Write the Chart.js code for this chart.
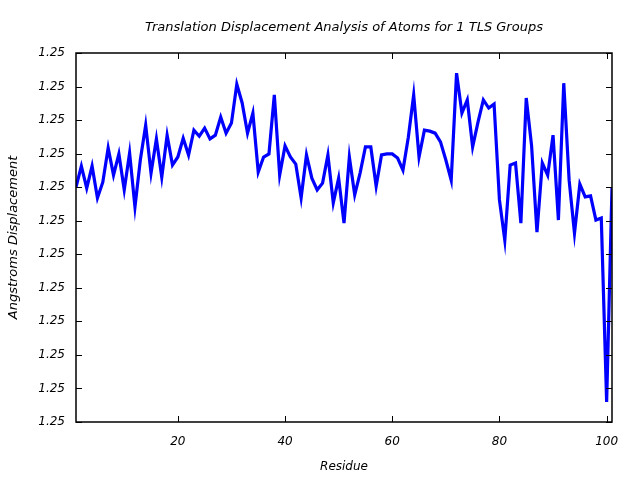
<!DOCTYPE html>
<html>
<head>
<meta charset="utf-8">
<script src="https://cdn.jsdelivr.net/npm/chart.js@4/dist/chart.umd.min.js"></script>
<style>
  html, body { margin: 0; padding: 0; background: #fff; }
  #wrap { width: 640px; height: 480px; }
</style>
</head>
<body>
<div id="wrap"><canvas id="chart_tls"></canvas></div>
<script>
// residue numbers 1..101
const residues = [];
for (let r = 1; r <= 101; r++) residues.push(r);

// displacement (Angstroms)
const displacement = [
    1.25200, 1.25263, 1.25197, 1.25263, 1.25168, 1.25215, 1.25317, 1.25236, 1.25299, 1.25192,
    1.25302, 1.25141, 1.25281, 1.25385, 1.25242, 1.25344, 1.25230, 1.25355, 1.25266, 1.25290,
    1.25346, 1.25296, 1.25370, 1.25352, 1.25376, 1.25344, 1.25355, 1.25409, 1.25361, 1.25391,
    1.25507, 1.25451, 1.25361, 1.25421, 1.25245, 1.25290, 1.25299, 1.25475, 1.25236, 1.25323,
    1.25290, 1.25269, 1.25168, 1.25296, 1.25227, 1.25192, 1.25212, 1.25296, 1.25153, 1.25227,
    1.25093, 1.25290, 1.25177, 1.25242, 1.25320, 1.25320, 1.25203, 1.25296, 1.25299, 1.25299,
    1.25287, 1.25251, 1.25349, 1.25475, 1.25290, 1.25370, 1.25367, 1.25361, 1.25335, 1.25281,
    1.25221, 1.25540, 1.25421, 1.25460, 1.25320, 1.25394, 1.25460, 1.25436, 1.25448, 1.25162,
    1.25042, 1.25266, 1.25272, 1.25093, 1.25466, 1.25323, 1.25066, 1.25272, 1.25236, 1.25355,
    1.25102, 1.25510, 1.25221, 1.25063, 1.25209, 1.25171, 1.25174, 1.25102, 1.25108, 1.24560,
    1.25200
];

const xTickValues = [20, 40, 60, 80, 100];
const yTickValues = [1.245, 1.246, 1.247, 1.248, 1.249, 1.250, 1.251, 1.252, 1.253, 1.254, 1.255, 1.256];
const yTickLabels = ['1.25', '1.25', '1.25', '1.25', '1.25', '1.25', '1.25', '1.25', '1.25', '1.25', '1.25', '1.25'];

const fontFam = "'DejaVu Sans', sans-serif";

// gnuplot style frame with inward ticks
const framePlugin = {
    id: 'frame',
    afterDatasetsDraw(chart) {
        const ctx = chart.ctx;
        const a = chart.chartArea;
        const xs = chart.scales.x, ys = chart.scales.y;
        const len = 6;
        ctx.save();
        ctx.strokeStyle = '#000';
        ctx.lineWidth = 1;
        ctx.beginPath();
        for (const t of ys.ticks) {
            const y = Math.round(ys.getPixelForValue(t.value)) + 0.5;
            ctx.moveTo(a.left, y); ctx.lineTo(a.left + len, y);
            ctx.moveTo(a.right, y); ctx.lineTo(a.right - len, y);
        }
        for (const t of xs.ticks) {
            const x = Math.round(xs.getPixelForValue(t.value)) + 0.5;
            ctx.moveTo(x, a.bottom); ctx.lineTo(x, a.bottom - len);
            ctx.moveTo(x, a.top); ctx.lineTo(x, a.top + len);
        }
        ctx.stroke();
        ctx.lineWidth = 1.5;
        ctx.strokeRect(a.left, a.top, a.right - a.left, a.bottom - a.top);
        ctx.restore();
    }
};

const config = {
    type: 'line',
    data: {
        datasets: [{
            label: 'TLS group 1',
            data: residues.map((r, i) => ({x: r, y: displacement[i]})),
            borderColor: '#0000ff',
            borderWidth: 3.2,
            pointRadius: 0,
            tension: 0,
            fill: false
        }]
    },
    options: {
        responsive: false,
        animation: false,
        devicePixelRatio: 1,
        layout: { padding: { left: 0, right: 28, top: 0, bottom: 0 } },
        plugins: {
            legend: { display: false },
            tooltip: { enabled: false },
            title: {
                display: true,
                fullSize: false,
                text: 'Translation Displacement Analysis of Atoms for 1 TLS Groups',
                color: '#000',
                font: { family: fontFam, size: 13, style: 'italic', weight: 'normal' },
                padding: { top: 20, bottom: 17.4 }
            }
        },
        scales: {
            x: {
                type: 'linear',
                min: 1,
                max: 101,
                grid: { display: false },
                border: { display: false },
                afterBuildTicks: (axis) => { axis.ticks = xTickValues.map(v => ({value: v})); },
                afterFit: (axis) => { axis.height = 58; },
                ticks: {
                    color: '#000',
                    padding: 5,
                    maxRotation: 0,
                    font: { family: fontFam, size: 12, style: 'italic' }
                },
                title: {
                    display: true,
                    text: 'Residue',
                    color: '#000',
                    font: { family: fontFam, size: 12, style: 'italic' },
                    padding: { top: 0, bottom: 6 }
                }
            },
            y: {
                type: 'linear',
                min: 1.245,
                max: 1.256,
                grid: { display: false },
                border: { display: false },
                afterBuildTicks: (axis) => { axis.ticks = yTickValues.map(v => ({value: v})); },
                afterFit: (axis) => { axis.width = 76; },
                ticks: {
                    color: '#000',
                    padding: 3,
                    font: { family: fontFam, size: 12, style: 'italic' },
                    callback: (value, index) => yTickLabels[index]
                },
                title: {
                    display: true,
                    text: 'Angstroms Displacement',
                    color: '#000',
                    font: { family: fontFam, size: 13, style: 'italic' },
                    padding: { top: 6, bottom: 0 }
                }
            }
        }
    },
    plugins: [framePlugin]
};

const canvas = document.getElementById('chart_tls');
canvas.width = 640;
canvas.height = 480;
new Chart(canvas, config);
</script>
</body>
</html>
